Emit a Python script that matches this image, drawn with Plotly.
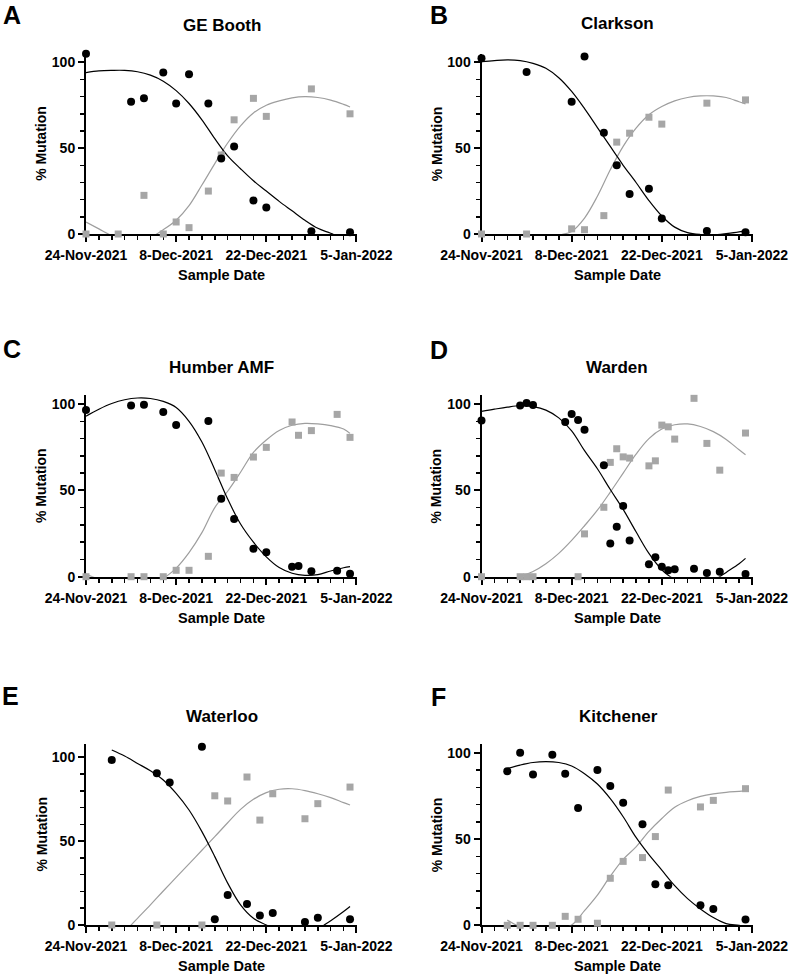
import pandas as pd
import plotly.graph_objects as go

# ---------------- data (days counted from 24-Nov-2021) ----------------
START_DATE = "2021-11-24"

site_names = ["GE Booth", "Clarkson", "Humber AMF", "Warden", "Waterloo", "Kitchener"]
panel_letters = ["A", "B", "C", "D", "E", "F"]
x_tick_labels = ["24-Nov-2021", "8-Dec-2021", "22-Dec-2021", "5-Jan-2022"]
y_axis_max = [105, 105, 105, 105, 108, 105]

# A - GE Booth
a_black_days = [0, 7, 9, 12, 14, 16, 19, 21, 23, 26, 28, 35, 41]
a_black_vals = [105, 77, 79, 94, 76, 93, 76, 44, 51, 19.5, 15.5, 1.6, 1.0]
a_gray_days = [0, 5, 9, 12, 14, 16, 19, 21, 23, 26, 28, 35, 41]
a_gray_vals = [0, 0, 22.5, 0, 7, 3.7, 25, 46, 66.5, 79, 68.5, 84.5, 70]
a_black_fit_days = [0, 2, 4, 6, 8, 10, 12, 14, 16, 18, 20, 22, 24, 26, 28, 30, 32, 34, 36, 38, 40, 41]
a_black_fit_vals = [94, 95, 95.3, 95.3, 94.5, 92.5, 89, 83.5, 76, 66.5, 55.5, 45.5, 38, 31, 25, 19, 13.5, 8, 3.3, 0.4, -3, -5]
a_gray_fit_days = [0, 2, 4, 6, 8, 10, 12, 14, 16, 18, 20, 22, 24, 26, 28, 30, 32, 34, 36, 38, 40, 41]
a_gray_fit_vals = [7, 3, -1, -4, -4, -2, 2.5, 8, 16.5, 28.5, 41, 53, 63, 70.5, 75, 77.5, 79.3, 80, 79.5, 78, 75.5, 74]

# B - Clarkson
b_black_days = [0, 7, 14, 16, 19, 21, 23, 26, 28, 35, 41]
b_black_vals = [102.3, 94.4, 77, 103.3, 59, 40, 23.3, 26.4, 9, 1.7, 1.0]
b_gray_days = [0, 7, 14, 16, 19, 21, 23, 26, 28, 35, 41]
b_gray_vals = [0, 0, 3, 2.5, 10.7, 53.5, 58.7, 68, 64, 76.2, 78.1]
b_black_fit_days = [0, 2, 4, 6, 8, 10, 12, 14, 16, 18, 20, 21, 22, 24, 26, 28, 30, 32, 34, 36, 38, 40, 41]
b_black_fit_vals = [100.4, 101, 101.4, 101, 99.4, 96.5, 91, 83, 73, 62, 51, 45.5, 40, 30, 19.5, 10.5, 4, 0.8, -0.3, -0.5, 0.2, 1.2, 2]
b_gray_fit_days = [0, 2, 4, 6, 8, 10, 12, 14, 16, 18, 20, 22, 24, 26, 28, 30, 32, 34, 36, 38, 40, 41]
b_gray_fit_vals = [-5, -8, -9, -8, -6, -3.5, -0.8, 1.5, 9.3, 22, 37.4, 51, 61.6, 69.4, 74.2, 77.5, 79.5, 80.4, 80.4, 79.5, 77, 75.8]

# C - Humber AMF
c_black_days = [0, 7, 9, 12, 14, 19, 21, 23, 26, 28, 32, 33, 35, 39, 41]
c_black_vals = [96.5, 99.2, 99.6, 95.4, 87.8, 90.2, 45.2, 33.4, 16.2, 14.1, 5.8, 6.2, 3.1, 3.5, 1.7]
c_gray_days = [0, 7, 9, 12, 14, 16, 19, 21, 23, 26, 28, 32, 33, 35, 39, 41]
c_gray_vals = [0, 0, 0, 0, 3.7, 3.7, 11.8, 60, 57.5, 69.3, 74.9, 89.6, 81.9, 84.6, 94, 80.7]
c_black_fit_days = [0, 2, 4, 6, 8, 10, 12, 14, 16, 18, 20, 22, 24, 26, 28, 30, 32, 34, 36, 38, 40, 41]
c_black_fit_vals = [93, 97, 100.3, 102.5, 103.5, 103.2, 101.5, 98, 90, 78, 62, 45, 30.5, 20, 11.5, 5.3, 2, 0.8, 1.2, 3.3, 5.2, 5.8]
c_gray_fit_days = [0, 2, 4, 6, 8, 10, 12, 14, 16, 18, 20, 22, 24, 26, 28, 30, 32, 34, 36, 38, 40, 41]
c_gray_fit_vals = [1.5, -1.5, -4, -5, -4.5, -3, -0.8, 5, 14, 25.5, 40, 49.5, 60.5, 72, 79.2, 84.7, 87.7, 88.8, 88.5, 87.5, 85.5, 83]

# D - Warden
d_black_days = [0, 6, 7, 8, 13, 14, 15, 16, 19, 20, 21, 22, 23, 26, 27, 28, 29, 30, 33, 35, 37, 41]
d_black_vals = [90.5, 99.2, 100.6, 99.4, 89.6, 94.2, 90.7, 85.1, 64.6, 19.3, 29, 41, 20.9, 7.2, 11.2, 5.8, 3.7, 4.3, 4.6, 2.1, 2.9, 1.5]
d_gray_days = [0, 6, 7, 8, 15, 16, 19, 20, 21, 22, 23, 26, 27, 28, 29, 30, 33, 35, 37, 41]
d_gray_vals = [0, 0, 0, 0, 0, 24.8, 40.2, 66.2, 74.1, 69.4, 68.7, 64.2, 67.1, 87.8, 86.8, 79.7, 103.3, 77.2, 61.7, 83.2]
d_black_fit_days = [0, 2, 4, 6, 8, 10, 12, 14, 16, 18, 20, 22, 24, 26, 28, 29, 30, 32, 34, 36, 37, 38, 40, 41]
d_black_fit_vals = [95.7, 97, 98.2, 99, 98.5, 96.5, 92, 84.5, 73, 62.5, 50.5, 39, 26, 13.5, 4, 0.8, -1.5, -4, -4.5, -2.5, 0, 2.5, 7.5, 10.6]
d_gray_fit_days = [0, 2, 4, 6, 8, 10, 12, 14, 16, 18, 20, 22, 24, 26, 28, 30, 32, 34, 36, 38, 40, 41]
d_gray_fit_vals = [-9, -6, -3, 0, 3, 7.5, 13.5, 21, 29.5, 38.5, 49, 60, 71, 80, 85.5, 88, 88.5, 87, 84, 79.5, 73.5, 70.6]

# E - Waterloo
e_black_days = [4, 11, 13, 18, 20, 22, 25, 27, 29, 34, 36, 41]
e_black_vals = [98.4, 90.5, 85.1, 106.4, 3.4, 17.9, 12.5, 5.6, 7.2, 1.8, 4.4, 3.4]
e_gray_days = [4, 11, 18, 20, 22, 25, 27, 29, 34, 36, 41]
e_gray_vals = [0, 0, 0, 77.1, 74, 88.3, 62.6, 78.3, 63.4, 72.4, 82.3]
e_black_fit_days = [4, 6, 8, 10, 12, 14, 16, 18, 20, 22, 24, 26, 28, 30, 32, 34, 36, 37, 38, 40, 41]
e_black_fit_vals = [104.4, 100.8, 96.4, 92, 86.5, 78.5, 68.6, 55.7, 40.8, 25, 12, 4, 0, -4, -6, -5.5, -2.5, 0, 2.5, 8, 11]
e_gray_fit_days = [4, 6, 8, 10, 12, 14, 16, 18, 20, 22, 24, 26, 28, 30, 32, 34, 36, 38, 40, 41]
e_gray_fit_vals = [-11, -4, 4, 12, 20.3, 28.4, 36.5, 44.6, 52.7, 61, 69, 75, 79, 81, 81.3, 80.2, 78.3, 76, 73, 71.6]

# F - Kitchener
f_black_days = [4, 6, 8, 11, 13, 15, 18, 20, 22, 25, 27, 29, 34, 36, 41]
f_black_vals = [89.4, 100.2, 87.6, 99, 88, 68.1, 90.1, 80.9, 71.2, 58.6, 23.8, 23.2, 11.6, 9.5, 3.3]
f_gray_days = [4, 6, 8, 11, 13, 15, 18, 20, 22, 25, 27, 29, 34, 36, 41]
f_gray_vals = [0, 0, 0, 0, 5.2, 3.5, 1.2, 27.3, 37.1, 39.3, 51.5, 78.5, 68.7, 72.5, 79.3]
f_black_fit_days = [4, 6, 8, 10, 12, 14, 16, 18, 20, 22, 24, 26, 28, 30, 32, 34, 36, 38, 40, 41]
f_black_fit_vals = [91, 93, 94.5, 95, 94.5, 92.5, 88, 82, 73.5, 63, 51, 41, 32, 23, 15.5, 9.5, 4.5, 1, 0, -0.8]
f_gray_fit_days = [4, 6, 8, 10, 12, 14, 16, 18, 20, 22, 24, 26, 28, 30, 32, 34, 36, 38, 40, 41]
f_gray_fit_vals = [3, -1, -3.5, -4, -2.5, 0.2, 8.5, 17.5, 28.5, 38.3, 45.5, 54.5, 62, 68.5, 72.3, 74.8, 76.3, 77.2, 77.7, 78]

# ---------------- styling / layout ----------------
FONT = "Liberation Sans, Arial, Helvetica, sans-serif"
BLACK = "#000000"
GRAY_MARK = "#A6A6A6"
GRAY_LINE = "#9E9E9E"
W, H = 790, 975

# plot-area boxes in pixels: (left, right, top, bottom)
boxes = [
    (86, 357, 53.7, 234.0),
    (481.5, 752.5, 53.7, 234.0),
    (86, 357, 395.4, 576.7),
    (481.5, 752.5, 395.4, 576.7),
    (86, 357, 744.0, 925.0),
    (481.5, 752.5, 744.4, 925.3),
]
title_pos = [(222, 25), (617.5, 24), (221, 367.5), (617, 367.5), (222, 716), (618, 716)]
letter_pos = [(12, 14.5), (439, 14.5), (11.5, 349.5), (439, 350), (10.5, 695.5), (438.5, 696.5)]


def px(xp):
    return xp / W


def py(yp):
    return 1 - yp / H


panels = [
    (a_black_days, a_black_vals, a_gray_days, a_gray_vals, a_black_fit_days, a_black_fit_vals, a_gray_fit_days, a_gray_fit_vals),
    (b_black_days, b_black_vals, b_gray_days, b_gray_vals, b_black_fit_days, b_black_fit_vals, b_gray_fit_days, b_gray_fit_vals),
    (c_black_days, c_black_vals, c_gray_days, c_gray_vals, c_black_fit_days, c_black_fit_vals, c_gray_fit_days, c_gray_fit_vals),
    (d_black_days, d_black_vals, d_gray_days, d_gray_vals, d_black_fit_days, d_black_fit_vals, d_gray_fit_days, d_gray_fit_vals),
    (e_black_days, e_black_vals, e_gray_days, e_gray_vals, e_black_fit_days, e_black_fit_vals, e_gray_fit_days, e_gray_fit_vals),
    (f_black_days, f_black_vals, f_gray_days, f_gray_vals, f_black_fit_days, f_black_fit_vals, f_gray_fit_days, f_gray_fit_vals),
]

start = pd.Timestamp(START_DATE)


def to_dates(days):
    return [start + pd.Timedelta(days=d) for d in days]


DAY_MS = 86400000
fig = go.Figure()
annotations = []

for i, (bd, bv, gd, gv, bfd, bfv, gfd, gfv) in enumerate(panels):
    n = "" if i == 0 else str(i + 1)
    xa, ya = "x" + n, "y" + n
    # fitted curves (clipped by axes)
    fig.add_trace(go.Scatter(x=to_dates(gfd), y=gfv, mode="lines", line=dict(color=GRAY_LINE, width=1.2, shape="spline", smoothing=1.0),
                             xaxis=xa, yaxis=ya, showlegend=False, hoverinfo="skip"))
    fig.add_trace(go.Scatter(x=to_dates(bfd), y=bfv, mode="lines", line=dict(color=BLACK, width=1.2, shape="spline", smoothing=1.0),
                             xaxis=xa, yaxis=ya, showlegend=False, hoverinfo="skip"))
    # data points
    fig.add_trace(go.Scatter(x=to_dates(gd), y=gv, mode="markers", marker=dict(symbol="square", size=7, color=GRAY_MARK),
                             xaxis=xa, yaxis=ya, showlegend=False, cliponaxis=False))
    fig.add_trace(go.Scatter(x=to_dates(bd), y=bv, mode="markers", marker=dict(symbol="circle", size=8, color=BLACK),
                             xaxis=xa, yaxis=ya, showlegend=False, cliponaxis=False))

    l, r, t, b = boxes[i]
    tick_vals = to_dates([0, 14, 28, 42])
    fig.layout["xaxis" + n] = dict(
        domain=[px(l), px(r)], anchor=ya, type="date", automargin=False,
        range=[start, start + pd.Timedelta(days=42, hours=2)],
        tickmode="array", tickvals=tick_vals, ticktext=x_tick_labels,
        ticks="outside", ticklen=6, tickwidth=2, tickcolor=BLACK,
        showline=True, linewidth=2, linecolor=BLACK,
        showgrid=False, zeroline=False, layer="below traces",
        minor=dict(dtick=2 * DAY_MS, tick0=START_DATE, ticks="outside", ticklen=4, tickwidth=1.5, tickcolor=BLACK, showgrid=False),
        tickfont=dict(family=FONT, size=14, color=BLACK, weight="bold"),
        ticklabelstandoff=1,
        fixedrange=True,
    )
    fig.layout["yaxis" + n] = dict(
        domain=[py(b), py(t)], anchor=xa, range=[0, y_axis_max[i]], automargin=False,
        tickmode="linear", tick0=0, dtick=50,
        ticks="outside", ticklen=6, tickwidth=2, tickcolor=BLACK,
        showline=True, linewidth=2, linecolor=BLACK,
        showgrid=False, zeroline=False, layer="below traces",
        minor=dict(dtick=10, tick0=0, ticks="outside", ticklen=4, tickwidth=1.5, tickcolor=BLACK, showgrid=False),
        tickfont=dict(family=FONT, size=14, color=BLACK, weight="bold"),
        ticklabelstandoff=0,
        fixedrange=True,
    )

    cx = (l + r) / 2
    cy = (t + b) / 2
    tx, ty = title_pos[i]
    annotations.append(dict(text="<b>" + site_names[i] + "</b>", x=px(tx), y=py(ty), xref="paper", yref="paper",
                            xanchor="center", yanchor="middle", showarrow=False,
                            font=dict(family=FONT, size=17, color=BLACK)))
    lx, ly = letter_pos[i]
    annotations.append(dict(text="<b>" + panel_letters[i] + "</b>", x=px(lx), y=py(ly), xref="paper", yref="paper",
                            xanchor="center", yanchor="middle", showarrow=False,
                            font=dict(family=FONT, size=25, color=BLACK)))
    annotations.append(dict(text="<b>Sample Date</b>", x=px(cx), y=py(b + 41), xref="paper", yref="paper",
                            xanchor="center", yanchor="middle", showarrow=False,
                            font=dict(family=FONT, size=14.5, color=BLACK)))
    annotations.append(dict(text="<b>% Mutation</b>", x=px(l - 45), y=py(cy), xref="paper", yref="paper",
                            xanchor="center", yanchor="middle", showarrow=False, textangle=-90,
                            font=dict(family=FONT, size=14, color=BLACK)))

fig.update_layout(
    width=W, height=H, autosize=False,
    margin=dict(l=0, r=0, t=0, b=0, pad=0, autoexpand=False),
    paper_bgcolor="white", plot_bgcolor="white",
    showlegend=False,
    annotations=annotations,
    font=dict(family=FONT, color=BLACK),
)

# remove the default page margin so the 790x975 figure fills the window exactly
fig.write_html(
    "out.html",
    config={"displayModeBar": False, "staticPlot": True},
    post_script="document.body.style.margin='0px'; document.body.style.overflow='hidden';",
)
